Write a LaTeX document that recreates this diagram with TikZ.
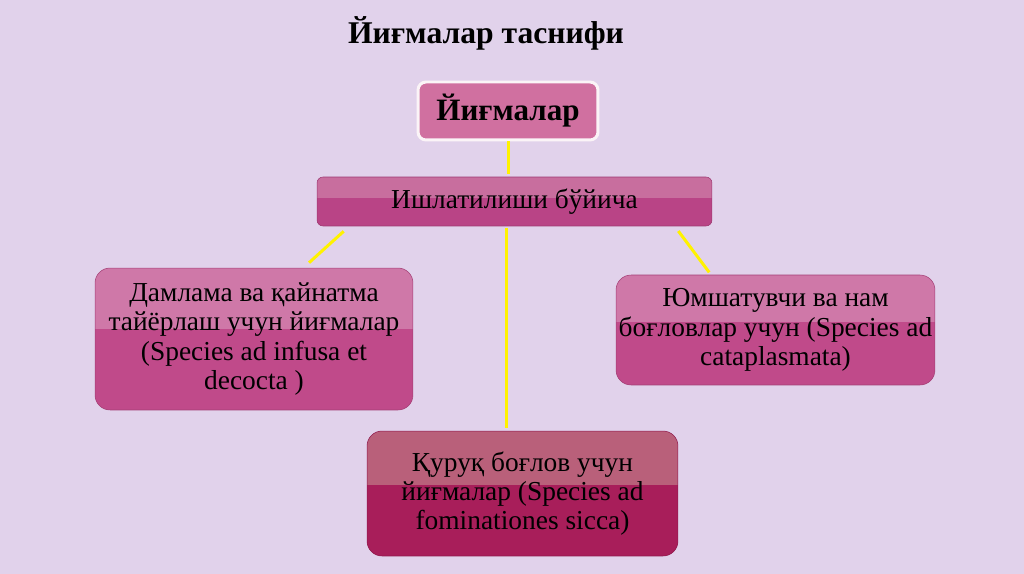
\documentclass[tikz,border=0pt]{standalone}
\usepackage{fontspec}
\setmainfont{Liberation Serif}
\usetikzlibrary{calc}
\definecolor{bgviolet}{HTML}{E1D2EB}
\definecolor{rootpink}{HTML}{D070A0}
\definecolor{barlight}{HTML}{C86E9E}
\definecolor{bardark}{HTML}{B94486}
\definecolor{sidelight}{HTML}{CF78A8}
\definecolor{sidedark}{HTML}{C04A8A}
\definecolor{dryLight}{HTML}{B9607A}
\definecolor{dryDark}{HTML}{A81E5A}
\definecolor{linkyellow}{HTML}{FFF200}

\begin{document}
\begin{tikzpicture}[x=0.02cm, y=-0.02cm,
    plate/.style 2 args={fill=#1, draw=#2!85!black, line width=0.3pt, align=center, inner sep=0pt,
      path picture={\fill[#2, sharp corners] ($(path picture bounding box.south west)!0.57!(path picture bounding box.north west)$)
        rectangle (path picture bounding box.south east);}},
    bodytext/.style={font=\fontsize{15.6}{16.6}\selectfont},
    link/.style={draw=linkyellow, line width=1.7pt}
]

% background and page size
\fill[bgviolet] (0,0) rectangle (1024,574);
\useasboundingbox (0,0) rectangle (1024,574);

% title
\node[font=\fontsize{18}{22}\selectfont\bfseries] (title) at (486,33) {Йиғмалар таснифи};

% root
\node[fill=rootpink, draw=white!92!rootpink, line width=1.7pt, rounded corners=0.16cm,
  minimum width=3.6cm, minimum height=1.16cm, font=\fontsize{17.7}{20}\selectfont\bfseries]
  (root) at (508,111) {Йиғмалар};

% criterion bar
\node[plate={barlight}{bardark}, rounded corners=0.12cm, minimum width=7.9cm, minimum height=0.98cm,
  bodytext] (bar) at (514.5,201.5) {Ишлатилиши бўйича};

% groups
\node[plate={sidelight}{sidedark}, rounded corners=0.3cm, minimum width=6.36cm, minimum height=2.84cm,
  bodytext] (infusa) at (254,339)
  {Дамлама ва қайнатма\\тайёрлаш учун йиғмалар\\(Species ad infusa et\\decocta )};
\node[plate={sidelight}{sidedark}, rounded corners=0.3cm, minimum width=6.38cm, minimum height=2.2cm,
  bodytext] (cata) at (775.5,330)
  {Юмшатувчи ва нам\\боғловлар учун (Species ad\\cataplasmata)};
\node[plate={dryLight}{dryDark}, rounded corners=0.3cm, minimum width=6.22cm, minimum height=2.5cm,
  bodytext] (sicca) at (522.5,493.5)
  {Қуруқ боғлов учун\\йиғмалар (Species ad\\fominationes sicca)};

% connectors
\draw[link, shorten >=0.06cm] (root.south) -- (root.south |- bar.north);
\draw[link, shorten <=0.15cm, shorten >=0.15cm] ([xshift=0.65cm]bar.south west) -- ([xshift=0.99cm]infusa.north);
\draw[link, shorten <=0.12cm, shorten >=0.06cm] ([xshift=-0.75cm]bar.south east) -- ([xshift=-1.29cm]cata.north);
\draw[link, shorten <=0.04cm, shorten >=0.06cm] ([xshift=-0.17cm]bar.south) -- ([xshift=-0.17cm]bar.south |- sicca.north);

\end{tikzpicture}
\end{document}
